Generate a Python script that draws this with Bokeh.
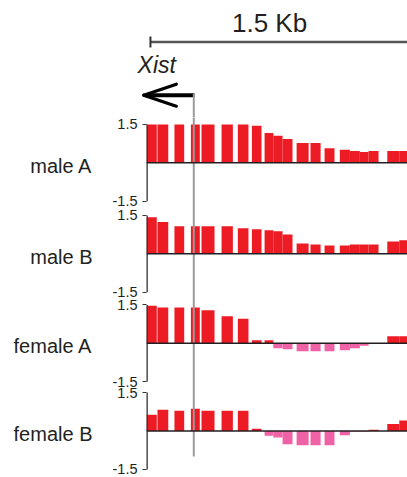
from bokeh.plotting import figure
from bokeh.layouts import column
from bokeh.models import Range1d, Span, Label, FixedTicker, ColumnDataSource, LinearAxis
from bokeh.embed import file_html
from bokeh.resources import INLINE
import numpy as np

# ---------------- data ----------------
bin_start = [0, 64, 163, 259, 321, 438, 533, 615, 689, 740, 794, 876, 957, 1039, 1128, 1187, 1245, 1296, 1405, 1475]
bin_end = [60, 127, 220, 311, 397, 504, 595, 671, 740, 794, 852, 946, 1016, 1097, 1187, 1245, 1296, 1354, 1475, 1545]

male_A = [1.5, 1.5, 1.5, 1.5, 1.5, 1.5, 1.5, 1.45, 1.16, 1.06, 0.93, 0.77, 0.77, 0.57, 0.51, 0.46, 0.42, 0.46, 0.46, 0.46]
male_B = [1.43, 1.24, 1.08, 1.08, 1.08, 1.08, 1.00, 0.96, 0.92, 0.88, 0.75, 0.40, 0.36, 0.32, 0.32, 0.36, 0.36, 0.36, 0.48, 0.53]
female_A = [1.47, 1.40, 1.40, 1.40, 1.29, 1.06, 0.96, 0.12, 0.12, -0.19, -0.23, -0.31, -0.31, -0.31, -0.27, -0.19, -0.10, -0.02, 0.28, 0.28]
female_B = [0.64, 0.83, 0.79, 0.87, 0.79, 0.79, 0.79, 0.09, -0.19, -0.25, -0.52, -0.56, -0.56, -0.56, -0.17, -0.03, -0.03, 0.05, 0.27, 0.41]

panel_names = ["male A", "male B", "female A", "female B"]
panel_values = [male_A, male_B, female_A, female_B]
tick_values = [-1.5, 1.5]
tick_labels = ["-1.5", "1.5"]

xist_tss = 276          # bp
xist_tip = -16          # bp, arrow tip (transcription to the left)
scale_start = 23        # bp
scale_len = 1500        # bp
scale_label = "1.5 Kb"
gene_name = "Xist"

# ---------------- layout settings ----------------
W = 407
X_END = 1523
X_START_TOP = -852
FONT = "Liberation Sans"
RED = "#ED1C24"
PINK = "#F062A6"
INK = "#231F20"
GRAY = "#9A9A9A"

TOP_H = 117
MAIN_H = 360
PX_PER_UNIT = 25.6
# baseline (zero line) of each track, in stacked units from the bottom of the plot
track_offsets = [12.293, 8.738, 5.242, 1.816]
label_nudge = -0.11

# ---------------- top track ----------------
top = figure(width=W, height=TOP_H, output_backend="svg", toolbar_location=None,
             x_range=Range1d(X_START_TOP, X_END), y_range=Range1d(0, TOP_H),
             x_axis_location=None, y_axis_location=None,
             min_border=0, min_border_left=0, min_border_right=0,
             min_border_top=0, min_border_bottom=0)
top.outline_line_color = None
top.grid.visible = False

sb_y = TOP_H - 41.5
top.segment(x0=[scale_start], y0=[sb_y], x1=[scale_start + scale_len], y1=[sb_y],
            line_color="#555555", line_width=2.5)
top.segment(x0=[scale_start], y0=[sb_y - 5.5], x1=[scale_start], y1=[sb_y + 5.5],
            line_color="#333333", line_width=2)
top.add_layout(Label(x=718, y=TOP_H - 22.8, text=scale_label, text_align="center",
                     text_baseline="middle", text_font=FONT, text_font_size="26px",
                     text_color=INK))

top.add_layout(Label(x=-52, y=TOP_H - 64.2, text=gene_name, text_align="left",
                     text_baseline="middle", text_font=FONT, text_font_size="23px",
                     text_font_style="italic", text_color=INK))
arr_y = TOP_H - 94.7
head_len = 190
head_half = 11
top.segment(x0=[xist_tss + 4], y0=[arr_y], x1=[xist_tip + 8], y1=[arr_y],
            line_color="black", line_width=4)
top.segment(x0=[xist_tip, xist_tip], y0=[arr_y, arr_y],
            x1=[xist_tip + head_len, xist_tip + head_len], y1=[arr_y + head_half, arr_y - head_half],
            line_color="black", line_width=3.2, line_cap="round")
top.segment(x0=[xist_tss], y0=[arr_y + 1.5], x1=[xist_tss], y1=[-5],
            line_color=GRAY, line_width=2)

# ---------------- stacked tracks ----------------
y_top = MAIN_H / PX_PER_UNIT
p = figure(width=W, height=MAIN_H, output_backend="svg", toolbar_location=None,
           x_range=Range1d(0, X_END), y_range=Range1d(0, y_top),
           x_axis_location=None,
           min_border=0, min_border_left=146, min_border_right=0,
           min_border_top=0, min_border_bottom=0)
p.outline_line_color = None
p.grid.visible = False

starts = np.array(bin_start, dtype=float)
ends = np.array(bin_end, dtype=float)
ticks, overrides = [], {}
for off, vals in zip(track_offsets, panel_values):
    v = np.array(vals, dtype=float)
    colors = [RED if x > 0 else PINK for x in v]
    src = ColumnDataSource(dict(left=starts, right=ends,
                                bottom=off + np.minimum(v, 0), top=off + np.maximum(v, 0),
                                color=colors))
    p.quad(left="left", right="right", bottom="bottom", top="top", source=src,
           fill_color="color", line_color=None)
    # axis bracket line of this track
    p.segment(x0=[0], y0=[off + tick_values[0]], x1=[0], y1=[off + tick_values[-1]],
              line_color="#333333", line_width=2.6)
    p.add_layout(Span(location=off, dimension="width", line_color=INK, line_width=1.6))
    for tv, tl in zip(tick_values, tick_labels):
        t = round(off + tv, 3)
        ticks.append(t)
        overrides[t] = tl

# gene position line through the tracks
p.segment(x0=[xist_tss], y0=[y_top + 1], x1=[xist_tss], y1=[track_offsets[-1] - 1.0],
          line_color=GRAY, line_width=2)

ax = p.yaxis[0]
ax.ticker = FixedTicker(ticks=ticks)
ax.major_label_overrides = overrides
ax.axis_line_color = None
ax.minor_tick_line_color = None
ax.major_tick_in = 0
ax.major_tick_out = 4
ax.major_tick_line_color = "#333333"
ax.major_tick_line_width = 1.2
ax.major_label_standoff = 5
ax.major_label_text_font = FONT
ax.major_label_text_font_size = "14.5px"
ax.major_label_text_color = INK

# track names as an outer axis
name_ticks = [round(o + label_nudge, 3) for o in track_offsets]
name_axis = LinearAxis(ticker=FixedTicker(ticks=name_ticks),
                       major_label_overrides={t: n for t, n in zip(name_ticks, panel_names)},
                       axis_line_color=None, major_tick_line_color=None,
                       minor_tick_line_color=None, major_tick_in=0, major_tick_out=0,
                       major_label_standoff=17, major_label_text_font=FONT,
                       major_label_text_font_size="20px", major_label_text_color=INK)
p.add_layout(name_axis, "left")

layout = column(top, column(p, spacing=0), spacing=0)
open("out.html", "w").write(file_html(layout, INLINE))
